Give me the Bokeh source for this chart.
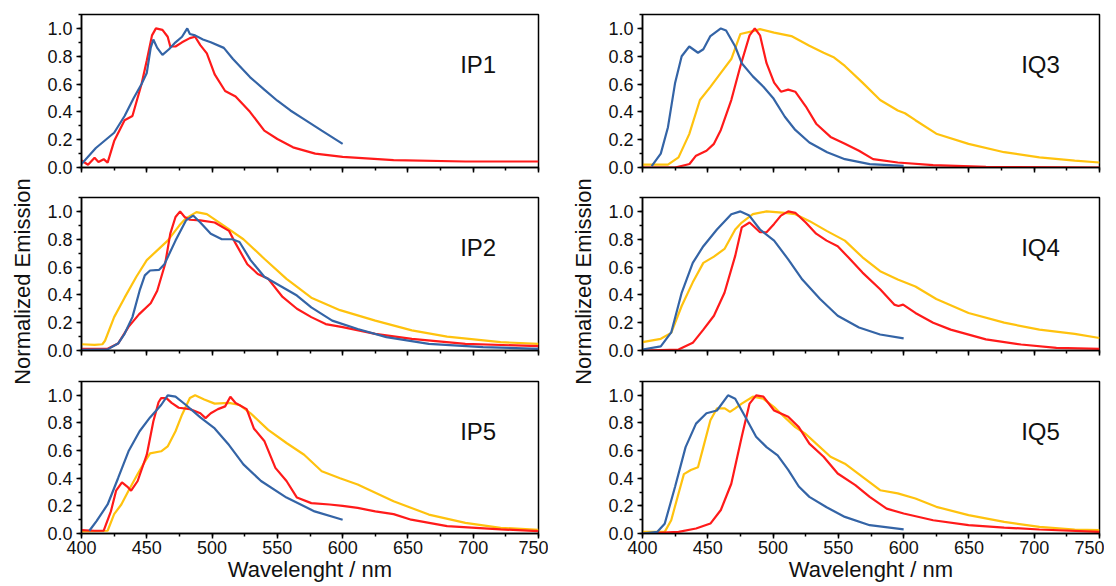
from bokeh.plotting import figure
from bokeh.layouts import row, column
from bokeh.models import Label, SingleIntervalTicker, PrintfTickFormatter, Range1d, CustomJSTickFormatter
from bokeh.embed import file_html
from bokeh.resources import INLINE

# ---------------- data ----------------
IP1_blue_x = [400, 411, 425, 433, 440, 446, 450, 453, 455, 458, 462, 467, 472, 477, 481, 483, 487, 493, 499, 509, 516, 529, 540, 550, 560, 570, 584, 600]
IP1_blue_y = [0.025, 0.14, 0.25, 0.37, 0.50, 0.60, 0.68, 0.86, 0.92, 0.86, 0.81, 0.85, 0.90, 0.94, 1.0, 0.96, 0.95, 0.92, 0.90, 0.86, 0.78, 0.65, 0.56, 0.48, 0.41, 0.35, 0.265, 0.17]
IP1_red_x = [400, 405, 410, 413, 417, 420, 425, 433, 439, 446, 450, 454, 457, 462, 466, 468, 472, 477, 483, 487, 491, 496, 502, 510, 518, 529, 540, 550, 562, 579, 600, 639, 694, 750]
IP1_red_y = [0.05, 0.02, 0.07, 0.04, 0.06, 0.035, 0.19, 0.34, 0.37, 0.60, 0.77, 0.95, 1.0, 0.99, 0.94, 0.87, 0.87, 0.90, 0.93, 0.94, 0.88, 0.82, 0.67, 0.55, 0.51, 0.40, 0.265, 0.205, 0.145, 0.10, 0.077, 0.053, 0.043, 0.043]

IP2_yellow_x = [400, 410, 416, 418, 425, 433, 442, 450, 458, 466, 475, 480, 488, 496, 507, 524, 540, 557, 576, 598, 625, 653, 680, 721, 750]
IP2_yellow_y = [0.045, 0.04, 0.045, 0.07, 0.24, 0.38, 0.53, 0.65, 0.72, 0.79, 0.90, 0.95, 0.995, 0.98, 0.91, 0.80, 0.66, 0.515, 0.38, 0.29, 0.215, 0.145, 0.10, 0.06, 0.048]
IP2_red_x = [400, 420, 428, 436, 444, 453, 458, 464, 468, 472, 475.5, 479, 483, 491, 502, 513, 518, 527, 535, 543, 554, 565, 576, 587, 600, 625, 653, 694, 750]
IP2_red_y = [0.012, 0.012, 0.05, 0.17, 0.26, 0.34, 0.43, 0.62, 0.84, 0.96, 1.0, 0.96, 0.94, 0.935, 0.92, 0.86, 0.77, 0.62, 0.55, 0.515, 0.385, 0.30, 0.24, 0.19, 0.168, 0.12, 0.084, 0.048, 0.031]
IP2_blue_x = [400, 420, 428, 433, 439, 444.5, 448.5, 452.5, 459.5, 463.5, 472, 480, 485.5, 491, 499, 507.5, 515.5, 521, 529.5, 540, 554, 565, 576, 592, 611.5, 633.5, 666, 707.5, 750]
IP2_blue_y = [0.005, 0.008, 0.05, 0.12, 0.24, 0.43, 0.54, 0.575, 0.58, 0.62, 0.79, 0.935, 0.97, 0.92, 0.84, 0.80, 0.80, 0.78, 0.65, 0.53, 0.455, 0.395, 0.31, 0.215, 0.155, 0.096, 0.048, 0.024, 0.012]

IP5_blue_x = [406, 411.5, 420, 428, 436, 444.5, 452.5, 461, 466, 472, 480, 491, 502, 513, 524, 537.5, 557, 578.5, 600]
IP5_blue_y = [0.02, 0.09, 0.21, 0.40, 0.595, 0.74, 0.84, 0.93, 1.0, 0.99, 0.93, 0.84, 0.76, 0.64, 0.50, 0.38, 0.26, 0.16, 0.10]
IP5_red_x = [400, 410, 417, 422.5, 426.5, 431, 435, 438, 443, 450, 455, 459, 461, 465, 469, 474.5, 483, 491, 495, 499, 504.5, 510, 514, 518, 526.5, 532, 540, 548.5, 557, 565, 576, 590, 600, 611.5, 625, 639, 652.5, 680, 721, 750]
IP5_red_y = [0.025, 0.02, 0.02, 0.16, 0.31, 0.37, 0.34, 0.31, 0.38, 0.57, 0.81, 0.95, 0.98, 0.98, 0.945, 0.91, 0.90, 0.87, 0.835, 0.87, 0.90, 0.92, 0.99, 0.945, 0.90, 0.76, 0.67, 0.475, 0.38, 0.26, 0.22, 0.21, 0.20, 0.185, 0.16, 0.14, 0.10, 0.053, 0.03, 0.017]
IP5_yellow_x = [400, 420, 425, 430.5, 436, 443, 448.5, 452.5, 461, 466, 472, 477, 483, 487, 494, 502, 513, 521, 529.5, 543, 557, 570.5, 584, 598, 611.5, 639, 666, 694, 721, 750]
IP5_yellow_y = [0.015, 0.02, 0.14, 0.21, 0.31, 0.43, 0.52, 0.58, 0.595, 0.63, 0.74, 0.86, 0.98, 1.0, 0.97, 0.94, 0.945, 0.93, 0.87, 0.75, 0.655, 0.57, 0.45, 0.40, 0.355, 0.234, 0.137, 0.077, 0.041, 0.027]

IQ3_blue_x = [407, 414, 419.5, 425, 430, 435.8, 442.5, 446.6, 452, 460, 464, 471, 476, 484.5, 492.6, 500, 509, 517, 527.8, 541.4, 555, 574, 600]
IQ3_blue_y = [0.01, 0.10, 0.29, 0.61, 0.80, 0.87, 0.825, 0.85, 0.945, 1.0, 0.985, 0.87, 0.75, 0.655, 0.58, 0.50, 0.365, 0.27, 0.18, 0.11, 0.06, 0.024, 0.012]
IQ3_red_x = [400, 425, 436, 441, 449, 454.7, 460, 468, 475, 482, 486, 490, 495, 500.8, 506, 511.6, 517, 525, 533, 544, 555, 565.8, 576.6, 595.5, 622.6, 663, 750]
IQ3_red_y = [0.0, 0.0, 0.025, 0.085, 0.12, 0.17, 0.27, 0.485, 0.73, 0.95, 1.0, 0.95, 0.75, 0.61, 0.545, 0.56, 0.545, 0.44, 0.315, 0.22, 0.17, 0.12, 0.06, 0.036, 0.017, 0.005, 0.0]
IQ3_yellow_x = [400, 419.5, 427.6, 435.8, 444, 452, 460, 468, 475, 484.5, 490, 500.8, 514, 527.8, 538.7, 546.8, 555, 568.5, 582, 595.5, 601, 609, 625, 649.7, 677, 704, 731, 750]
IQ3_yellow_y = [0.02, 0.02, 0.073, 0.24, 0.485, 0.58, 0.68, 0.78, 0.96, 0.98, 0.995, 0.97, 0.945, 0.875, 0.825, 0.79, 0.73, 0.61, 0.485, 0.41, 0.39, 0.34, 0.243, 0.17, 0.11, 0.073, 0.049, 0.036]

IQ4_blue_x = [400, 414, 422, 430, 438.5, 446.6, 457, 468, 475, 481.8, 490, 500.8, 511.6, 522.4, 536, 549.5, 565.8, 582, 600]
IQ4_blue_y = [0.007, 0.03, 0.13, 0.415, 0.63, 0.75, 0.87, 0.98, 1.0, 0.97, 0.87, 0.79, 0.655, 0.51, 0.37, 0.25, 0.165, 0.115, 0.087]
IQ4_red_x = [400, 427.6, 438.5, 446.6, 454.7, 462.8, 471, 476, 482, 490, 495, 500.8, 506, 511.6, 517, 525, 533, 541, 549.5, 557.6, 568.5, 582, 592.8, 596, 599.6, 609, 622.6, 636, 663, 690, 717, 750]
IQ4_red_y = [0.0, 0.007, 0.055, 0.15, 0.25, 0.415, 0.68, 0.885, 0.92, 0.85, 0.85, 0.91, 0.97, 1.0, 0.99, 0.92, 0.84, 0.79, 0.75, 0.67, 0.56, 0.44, 0.33, 0.32, 0.33, 0.27, 0.20, 0.15, 0.08, 0.043, 0.019, 0.012]
IQ4_yellow_x = [400, 414, 422, 430, 438.5, 446.6, 454.7, 462.8, 471, 476, 484.5, 495, 509, 517, 528, 541, 555, 568.5, 582, 595.5, 609, 625, 649.7, 677, 704, 731, 750]
IQ4_yellow_y = [0.06, 0.084, 0.127, 0.32, 0.49, 0.63, 0.675, 0.73, 0.87, 0.92, 0.98, 1.0, 0.99, 0.98, 0.93, 0.86, 0.79, 0.67, 0.57, 0.51, 0.46, 0.37, 0.27, 0.20, 0.15, 0.12, 0.09]

IQ5_blue_x = [400, 411.4, 417, 425, 433, 441, 449, 457, 465.5, 471, 479, 487, 495, 503.5, 511.6, 519.7, 527.8, 541, 555, 574, 600]
IQ5_blue_y = [0.0, 0.012, 0.07, 0.34, 0.625, 0.795, 0.87, 0.89, 1.0, 0.975, 0.84, 0.70, 0.625, 0.565, 0.46, 0.34, 0.265, 0.19, 0.12, 0.06, 0.03]
IQ5_yellow_x = [400, 417, 422, 427.6, 431.7, 437, 442.5, 446.6, 452, 457, 463, 467, 471, 476, 484.5, 492.6, 500.8, 509, 517, 525, 533, 544, 555, 568.5, 582, 595.5, 609, 625, 649.7, 677, 704, 731, 750]
IQ5_yellow_y = [0.012, 0.012, 0.096, 0.29, 0.43, 0.46, 0.48, 0.625, 0.82, 0.905, 0.905, 0.88, 0.905, 0.94, 0.99, 0.975, 0.915, 0.84, 0.77, 0.72, 0.65, 0.555, 0.505, 0.41, 0.313, 0.29, 0.253, 0.193, 0.133, 0.084, 0.048, 0.029, 0.024]
IQ5_red_x = [400, 427.6, 441, 452, 460, 468, 476, 482, 487, 492.6, 500.8, 511.6, 519.7, 527.8, 538.7, 549.5, 563, 574, 587, 600, 622.6, 649.7, 677, 704, 750]
IQ5_red_y = [0.0, 0.012, 0.036, 0.072, 0.17, 0.36, 0.70, 0.94, 1.0, 0.99, 0.89, 0.845, 0.77, 0.65, 0.555, 0.434, 0.35, 0.265, 0.18, 0.145, 0.096, 0.06, 0.043, 0.029, 0.012]

panel_names = ["IP1", "IP2", "IP5", "IQ3", "IQ4", "IQ5"]
x_title = "Wavelenght / nm"
y_title = "Normalized Emission"

# ---------------- styling ----------------
BLUE = "#3464a6"
RED = "#ff1a1a"
YELLOW = "#ffc20e"
FONT = "Liberation Sans"
TOTAL_H = 586

series = {
    "IP1": [(IP1_red_x, IP1_red_y, RED), (IP1_blue_x, IP1_blue_y, BLUE)],
    "IP2": [(IP2_yellow_x, IP2_yellow_y, YELLOW), (IP2_red_x, IP2_red_y, RED), (IP2_blue_x, IP2_blue_y, BLUE)],
    "IP5": [(IP5_yellow_x, IP5_yellow_y, YELLOW), (IP5_red_x, IP5_red_y, RED), (IP5_blue_x, IP5_blue_y, BLUE)],
    "IQ3": [(IQ3_yellow_x, IQ3_yellow_y, YELLOW), (IQ3_red_x, IQ3_red_y, RED), (IQ3_blue_x, IQ3_blue_y, BLUE)],
    "IQ4": [(IQ4_yellow_x, IQ4_yellow_y, YELLOW), (IQ4_red_x, IQ4_red_y, RED), (IQ4_blue_x, IQ4_blue_y, BLUE)],
    "IQ5": [(IQ5_yellow_x, IQ5_yellow_y, YELLOW), (IQ5_red_x, IQ5_red_y, RED), (IQ5_blue_x, IQ5_blue_y, BLUE)],
}

# row geometry: (top border, frame height, bottom border)
ROWS = [(14, 153, 24), (6, 153, 25), (6, 152, 53)]


def make_panel(name, rowi, left_border, right_border):
    top_b, fh, bot_b = ROWS[rowi]
    p = figure(frame_width=457, frame_height=fh,
               x_range=Range1d(400, 750), y_range=Range1d(0, 1.1),
               output_backend="svg", toolbar_location=None,
               min_border_top=top_b, min_border_bottom=bot_b,
               min_border_left=left_border, min_border_right=right_border,
               background_fill_color="white", border_fill_color="white")
    p.grid.visible = False
    p.outline_line_color = "black"
    p.outline_line_width = 1.5

    p.xaxis.ticker = SingleIntervalTicker(interval=50, num_minor_ticks=2)
    p.yaxis.ticker = SingleIntervalTicker(interval=0.2, num_minor_ticks=2)
    p.yaxis.formatter = PrintfTickFormatter(format="%.1f")
    for ax in (p.xaxis, p.yaxis):
        ax.axis_line_color = "black"
        ax.axis_line_width = 1.5
        ax.major_tick_line_color = "black"
        ax.major_tick_line_width = 1.5
        ax.minor_tick_line_color = "black"
        ax.minor_tick_line_width = 1.5
        ax.major_tick_in = 0
        ax.major_tick_out = 5
        ax.minor_tick_in = 0
        ax.minor_tick_out = 3
        ax.major_label_text_font = FONT
        ax.major_label_text_font_size = "18px"
        ax.major_label_text_color = "#111111"
        ax.axis_label_text_font = FONT
        ax.axis_label_text_font_size = "22px"
        ax.axis_label_text_font_style = "normal"
        ax.axis_label_text_color = "#111111"
    p.yaxis.major_label_standoff = 4
    p.xaxis.major_label_standoff = 2

    if rowi < 2:
        p.xaxis.formatter = CustomJSTickFormatter(code="return ''")
        p.xaxis.major_label_text_font_size = "0px"
    else:
        p.xaxis.axis_label = x_title
        p.xaxis.axis_label_standoff = 0

    for xs, ys, col in series[name]:
        p.line(xs, ys, line_color=col, line_width=2.2)

    p.add_layout(Label(x=690, y=0.74, text=name, text_font=FONT, text_font_size="24px",
                       text_baseline="middle", text_align="left", text_color="#111111"))
    return p


def title_strip(width, xc):
    s = figure(width=width, height=TOTAL_H, x_range=Range1d(0, width), y_range=Range1d(0, TOTAL_H),
               x_axis_type=None, y_axis_type=None, output_backend="svg", toolbar_location=None,
               min_border=0, outline_line_color=None,
               background_fill_color="white", border_fill_color="white")
    s.grid.visible = False
    s.add_layout(Label(x=xc, y=TOTAL_H - 281, text=y_title, angle=90, angle_units="deg",
                       text_font=FONT, text_font_size="22px", text_align="center",
                       text_baseline="middle", text_color="#111111"))
    return s


left_col = column(*[make_panel(n, i, 41, 10) for i, n in enumerate(panel_names[:3])])
right_col = column(*[make_panel(n, i, 42, 5) for i, n in enumerate(panel_names[3:])])
layout = row(title_strip(40, 22), left_col, title_strip(52, 35), right_col)

open("out.html", "w").write(file_html(layout, INLINE))
